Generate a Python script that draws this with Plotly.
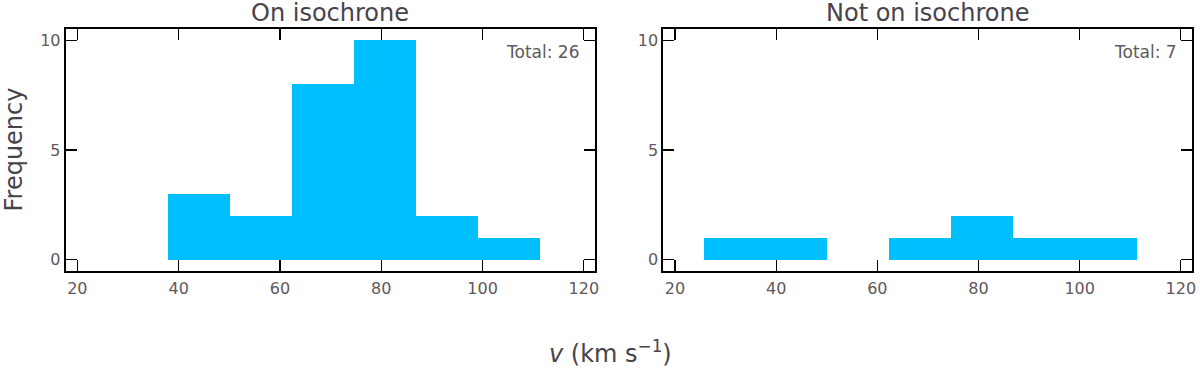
import plotly.graph_objects as go

# Data
bin_edges_on = [37.9, 50.13, 62.37, 74.6, 86.83, 99.07, 111.3]
counts_on = [3, 2, 8, 10, 2, 1]
bin_edges_off = [25.67, 37.9, 50.13, 62.37, 74.6, 86.83, 99.07, 111.3]
counts_off = [1, 1, 0, 1, 2, 1, 1]
panel_titles = ["On isochrone", "Not on isochrone"]
totals = ["Total: 26", "Total: 7"]
x_ticks = [20, 40, 60, 80, 100, 120]
y_ticks = [0, 5, 10]

BAR = "#00BFFF"
TICKC = "#5e585c"
TITLEC = "#48434a"
FONT = "DejaVu Sans"

def centers_widths(edges):
    c = [(edges[i] + edges[i + 1]) / 2 for i in range(len(edges) - 1)]
    w = [(edges[i + 1] - edges[i]) for i in range(len(edges) - 1)]
    return c, w

fig = go.Figure()
c1, w1 = centers_widths(bin_edges_on)
c2, w2 = centers_widths(bin_edges_off)
fig.add_trace(go.Bar(x=c1, y=counts_on, width=w1, marker=dict(color=BAR, line=dict(width=0)),
                     xaxis="x", yaxis="y", showlegend=False))
fig.add_trace(go.Bar(x=c2, y=counts_off, width=w2, marker=dict(color=BAR, line=dict(width=0)),
                     xaxis="x2", yaxis="y2", showlegend=False))

W, H = 1200, 371
left1, right1 = 65.7, 595.0
left2, right2 = 663.3, 1192.0
top, bottom = 29.3, 270.7
ydom = [1 - bottom / H, 1 - top / H]

axis_common = dict(
    showline=True, linecolor="black", linewidth=2, mirror="allticks",
    ticks="inside", ticklen=11, tickwidth=1.2, tickcolor="black",
    showgrid=False, zeroline=False, automargin=False,
    tickfont=dict(family=FONT, size=16, color=TICKC),
)
fig.update_layout(
    width=W, height=H,
    margin=dict(l=0, r=0, t=0, b=0, autoexpand=False),
    paper_bgcolor="white", plot_bgcolor="white",
    bargap=0,
    xaxis=dict(domain=[left1 / W, right1 / W], range=[17.7, 122.2], tickvals=x_ticks, anchor="y",
               ticklabelstandoff=2, **axis_common),
    yaxis=dict(domain=ydom, range=[-0.5, 10.5], tickvals=y_ticks, anchor="x", **axis_common),
    xaxis2=dict(domain=[left2 / W, right2 / W], range=[17.7, 122.2], tickvals=x_ticks, anchor="y2",
                ticklabelstandoff=2, **axis_common),
    yaxis2=dict(domain=ydom, range=[-0.5, 10.5], tickvals=y_ticks, anchor="x2", **axis_common),
)

annos = []
for i, (l, r) in enumerate([(left1, right1), (left2, right2)]):
    annos.append(dict(text=panel_titles[i], x=(l + r) / 2 / W, y=1 - 13 / H, xref="paper", yref="paper",
                      xanchor="center", yanchor="middle", showarrow=False,
                      font=dict(family=FONT, size=24, color=TITLEC)))
annos.append(dict(text=totals[0], x=581 / W, y=1 - 51.5 / H, xref="paper", yref="paper",
                  xanchor="right", yanchor="middle", showarrow=False,
                  font=dict(family=FONT, size=17, color=TICKC)))
annos.append(dict(text=totals[1], x=1179 / W, y=1 - 51.5 / H, xref="paper", yref="paper",
                  xanchor="right", yanchor="middle", showarrow=False,
                  font=dict(family=FONT, size=17, color=TICKC)))
annos.append(dict(text="<i>v</i> (km s<sup>−1</sup>)", x=610.5 / W, y=1 - 352 / H, xref="paper", yref="paper",
                  xanchor="center", yanchor="middle", showarrow=False,
                  font=dict(family=FONT, size=24, color=TITLEC)))
annos.append(dict(text="Frequency", x=13.5 / W, y=1 - 150 / H, xref="paper", yref="paper",
                  xanchor="center", yanchor="middle", showarrow=False, textangle=-90,
                  font=dict(family=FONT, size=24, color=TITLEC)))
fig.update_layout(annotations=annos)

fig.write_html("out.html", config={"displayModeBar": False, "staticPlot": True},
               post_script="document.body.style.margin='0';document.body.style.overflow='hidden';")
